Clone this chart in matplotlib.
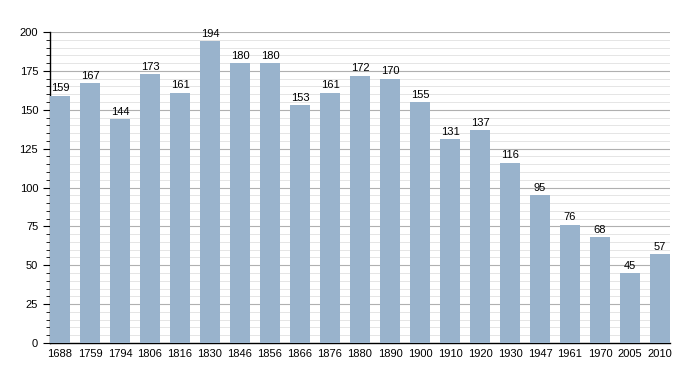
import matplotlib
matplotlib.use('Agg')
import numpy as np
from matplotlib import pyplot as plt
from matplotlib.ticker import MultipleLocator

years = ['1688', '1759', '1794', '1806', '1816', '1830', '1846', '1856', '1866', '1876', '1880',
         '1890', '1900', '1910', '1920', '1930', '1947', '1961', '1970', '2005', '2010']
population = [159, 167, 144, 173, 161, 194, 180, 180, 153, 161, 172,
              170, 155, 131, 137, 116, 95, 76, 68, 45, 57]

plt.rcParams['font.family'] = ['Liberation Sans', 'DejaVu Sans']

fig = plt.figure(figsize=(7, 3.73), dpi=100)
ax = fig.add_axes([50 / 700, 30 / 373, 620 / 700, 311 / 373])

x = np.arange(len(years))
w = 2 / 3
ax.bar(x, population, width=w, align='edge', color='#99b3cc', zorder=3)
for xi, v in zip(x, population):
    ax.text(xi + w / 2, v + 1.5, str(v), ha='center', va='bottom', fontsize=8, zorder=4)

ax.set_xlim(0, len(years) - 1 + w)
ax.set_ylim(0, 200)
ax.set_xticks(x + w / 2)
ax.set_xticklabels(years, fontsize=8)
ax.tick_params(axis='x', length=0, pad=4)
ax.yaxis.set_major_locator(MultipleLocator(25))
ax.yaxis.set_minor_locator(MultipleLocator(5))
ax.tick_params(axis='y', which='major', length=5, labelsize=8, direction='out')
ax.tick_params(axis='y', which='minor', length=3, direction='out')
ax.grid(axis='y', which='major', color='#b0b0b0', linewidth=0.8, zorder=0)
ax.grid(axis='y', which='minor', color='#e0e0e0', linewidth=0.6, zorder=0)
for s in ['top', 'right']:
    ax.spines[s].set_visible(False)
ax.spines['left'].set_linewidth(1)
ax.spines['bottom'].set_linewidth(1)

fig.savefig('out.png', dpi=100)
